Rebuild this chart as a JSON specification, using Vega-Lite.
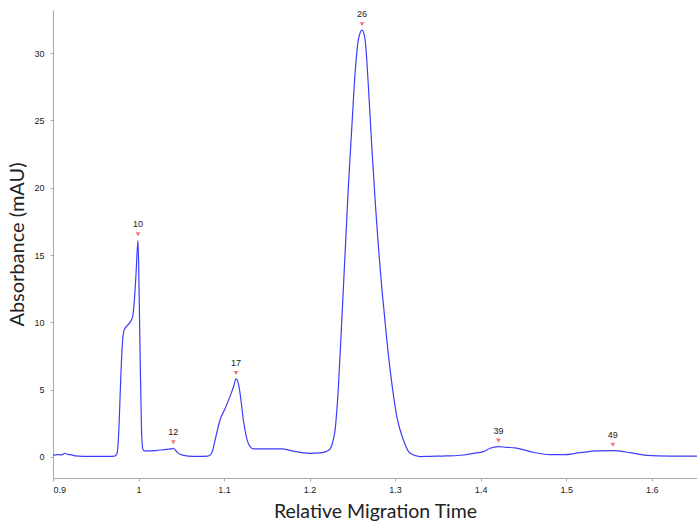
{
  "$schema": "https://vega.github.io/schema/vega-lite/v6.json",
  "width": 644,
  "height": 468,
  "autosize": {"type": "none"},
  "padding": {"left": 53, "top": 10, "right": 0, "bottom": 44},
  "background": "white",
  "config": {"view": {"stroke": null}},
  "datasets": {
    "trace": [
      {"t": 0.900, "a": 0.12}, {"t": 0.905, "a": 0.18}, {"t": 0.910, "a": 0.16}, {"t": 0.914, "a": 0.28},
      {"t": 0.918, "a": 0.18}, {"t": 0.922, "a": 0.16}, {"t": 0.926, "a": 0.08}, {"t": 0.935, "a": 0.05},
      {"t": 0.950, "a": 0.05}, {"t": 0.965, "a": 0.05}, {"t": 0.972, "a": 0.07}, {"t": 0.975, "a": 0.3},
      {"t": 0.977, "a": 2.0}, {"t": 0.979, "a": 5.5}, {"t": 0.981, "a": 8.3}, {"t": 0.983, "a": 9.4},
      {"t": 0.986, "a": 9.7}, {"t": 0.990, "a": 10.0}, {"t": 0.993, "a": 10.4}, {"t": 0.995, "a": 11.5},
      {"t": 0.997, "a": 13.5}, {"t": 0.9994, "a": 16.1}, {"t": 1.0005, "a": 13.0}, {"t": 1.002, "a": 7.0},
      {"t": 1.0035, "a": 2.0}, {"t": 1.005, "a": 0.6}, {"t": 1.007, "a": 0.45}, {"t": 1.012, "a": 0.45},
      {"t": 1.020, "a": 0.48}, {"t": 1.030, "a": 0.55}, {"t": 1.038, "a": 0.6}, {"t": 1.0407, "a": 0.65},
      {"t": 1.044, "a": 0.45}, {"t": 1.0485, "a": 0.2}, {"t": 1.058, "a": 0.07}, {"t": 1.070, "a": 0.04},
      {"t": 1.081, "a": 0.07}, {"t": 1.0856, "a": 0.3}, {"t": 1.0895, "a": 1.26}, {"t": 1.0953, "a": 2.75},
      {"t": 1.1012, "a": 3.6}, {"t": 1.107, "a": 4.5}, {"t": 1.111, "a": 5.2}, {"t": 1.114, "a": 5.8},
      {"t": 1.1165, "a": 5.5}, {"t": 1.1187, "a": 4.75}, {"t": 1.1226, "a": 2.75}, {"t": 1.1284, "a": 1.0},
      {"t": 1.1343, "a": 0.6}, {"t": 1.150, "a": 0.6}, {"t": 1.1675, "a": 0.6}, {"t": 1.180, "a": 0.45},
      {"t": 1.1889, "a": 0.35}, {"t": 1.200, "a": 0.27}, {"t": 1.2123, "a": 0.3}, {"t": 1.220, "a": 0.42},
      {"t": 1.224, "a": 0.6}, {"t": 1.2275, "a": 1.2}, {"t": 1.2298, "a": 2.0}, {"t": 1.2337, "a": 5.2},
      {"t": 1.2377, "a": 10.2}, {"t": 1.2415, "a": 15.1}, {"t": 1.2454, "a": 20.1}, {"t": 1.2494, "a": 24.5},
      {"t": 1.2532, "a": 28.5}, {"t": 1.2571, "a": 31.0}, {"t": 1.2614, "a": 31.7}, {"t": 1.2649, "a": 31.0},
      {"t": 1.2688, "a": 27.5}, {"t": 1.2728, "a": 23.0}, {"t": 1.2766, "a": 19.1}, {"t": 1.2805, "a": 15.6},
      {"t": 1.2844, "a": 12.6}, {"t": 1.2903, "a": 8.7}, {"t": 1.2961, "a": 5.5}, {"t": 1.302, "a": 3.0},
      {"t": 1.3097, "a": 1.26}, {"t": 1.3175, "a": 0.27}, {"t": 1.3292, "a": 0.03}, {"t": 1.3409, "a": 0.05},
      {"t": 1.360, "a": 0.08}, {"t": 1.380, "a": 0.15}, {"t": 1.3916, "a": 0.27}, {"t": 1.4033, "a": 0.4},
      {"t": 1.4111, "a": 0.65}, {"t": 1.4208, "a": 0.77}, {"t": 1.430, "a": 0.72}, {"t": 1.4404, "a": 0.68},
      {"t": 1.4579, "a": 0.4}, {"t": 1.4813, "a": 0.17}, {"t": 1.4968, "a": 0.17}, {"t": 1.5164, "a": 0.32},
      {"t": 1.5359, "a": 0.45}, {"t": 1.5546, "a": 0.47}, {"t": 1.5749, "a": 0.32}, {"t": 1.5944, "a": 0.12},
      {"t": 1.620, "a": 0.07}, {"t": 1.653, "a": 0.07}
    ],
    "peaks": [
      {"peak": "10", "t": 0.9994, "a": 16.1},
      {"peak": "12", "t": 1.0407, "a": 0.65},
      {"peak": "17", "t": 1.114, "a": 5.8},
      {"peak": "26", "t": 1.2614, "a": 31.7},
      {"peak": "39", "t": 1.4208, "a": 0.77},
      {"peak": "49", "t": 1.5546, "a": 0.47}
    ]
  },
  "encoding": {
    "x": {
      "field": "t", "type": "quantitative",
      "scale": {"domain": [0.9, 1.653], "nice": false, "zero": false},
      "axis": {
        "title": "Relative Migration Time",
        "values": [0.9, 1.0, 1.1, 1.2, 1.3, 1.4, 1.5, 1.6],
        "format": "~g",
        "grid": false,
        "domainColor": "#aaaaaa",
        "tickColor": "#aaaaaa",
        "tickSize": 3,
        "labelFont": "Liberation Sans",
        "labelFontSize": 9,
        "labelColor": "#222222",
        "labelPadding": 4,
        "titleFont": "Lato",
        "titleFontSize": 19.5,
        "titleFontWeight": "normal",
        "titleColor": "#222222",
        "titlePadding": 8
      }
    },
    "y": {
      "field": "a", "type": "quantitative",
      "scale": {"domain": [-1.56, 33.2], "nice": false, "zero": false},
      "axis": {
        "title": "Absorbance (mAU)",
        "values": [0, 5, 10, 15, 20, 25, 30],
        "grid": false,
        "domainColor": "#aaaaaa",
        "tickColor": "#aaaaaa",
        "tickSize": 3,
        "labelFont": "Liberation Sans",
        "labelFontSize": 9,
        "labelColor": "#222222",
        "labelPadding": 6,
        "titleFont": "Lato",
        "titleFontSize": 20,
        "titleFontWeight": "normal",
        "titleColor": "#222222",
        "titlePadding": 6
      }
    }
  },
  "layer": [
    {
      "data": {"name": "trace"},
      "mark": {"type": "line", "color": "#3d3dfa", "strokeWidth": 1.2, "interpolate": "monotone", "clip": true}
    },
    {
      "data": {"name": "peaks"},
      "mark": {"type": "point", "shape": "triangle-down", "filled": true, "color": "#f27474", "size": 22, "opacity": 1, "yOffset": -6}
    },
    {
      "data": {"name": "peaks"},
      "mark": {"type": "text", "font": "Liberation Sans", "fontSize": 9, "color": "#222222", "dy": -16},
      "encoding": {"text": {"field": "peak"}}
    }
  ]
}
